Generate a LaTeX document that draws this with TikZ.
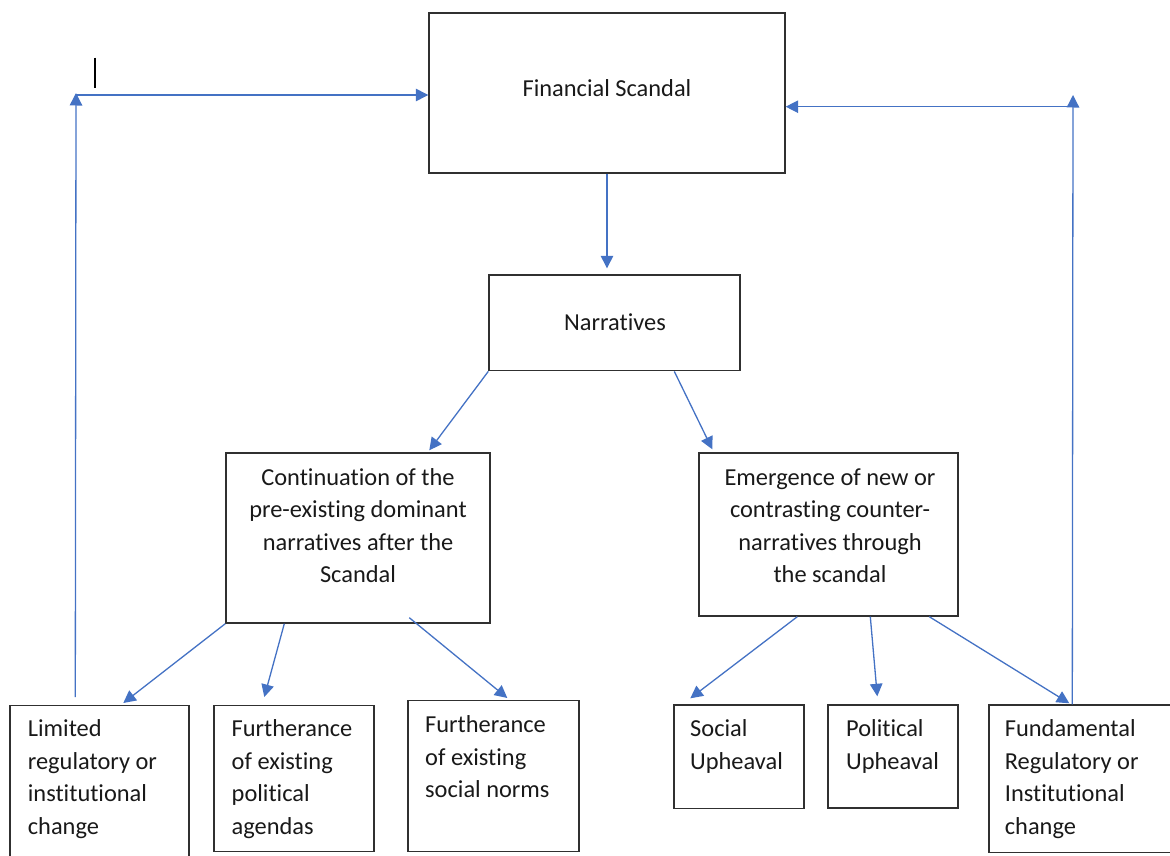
\documentclass[tikz,border=0pt]{standalone}
\usepackage{fontspec}
\setmainfont{Carlito}[Ligatures=NoCommon]
\usetikzlibrary{calc,arrows.meta}
\definecolor{arrblue}{HTML}{4472C4}
\definecolor{boxline}{HTML}{303030}
\begin{document}
\begin{tikzpicture}[x=1pt,y=-1pt,
  box/.style={draw=boxline,line width=1.4pt,inner sep=0pt,rectangle},
  txt/.style={inner sep=0pt,font=\fontsize{24.4}{32.5}\selectfont,text=black!90},
  arr/.style={draw=arrblue,line width=1.3pt,-{Triangle[length=12.5pt,width=12.5pt]}}]
\useasboundingbox (0,0) rectangle (1170,856);
\clip (0,0) rectangle (1170,856);
% boxes
\node[box,minimum width=356pt,minimum height=160pt] (fs) at (607,92.85) {};
\node[box,minimum width=251pt,minimum height=95.7pt] (narr) at (614.5,322.85) {};
\node[box,minimum width=264pt,minimum height=170pt] (cont) at (358,538) {};
\node[box,minimum width=259pt,minimum height=163pt] (emer) at (828.5,534.5) {};
\node[box,minimum width=179pt,minimum height=174.3pt] (lim) at (99.5,792.85) {};
\node[box,minimum width=160pt,minimum height=146pt] (polag) at (294,778.7) {};
\node[box,minimum width=171pt,minimum height=151pt] (socn) at (493.5,776.2) {};
\node[box,minimum width=130pt,minimum height=103.5pt] (suph) at (739,756.75) {};
\node[box,minimum width=130pt,minimum height=103pt] (puph) at (893,756.5) {};
\node[box,minimum width=201pt,minimum height=147.5pt] (fund) at (1089.5,778.75) {};
% texts (base anchor = baseline of the last line)
\node[txt,anchor=base] (fst) at (607,96.7) {Financial Scandal};
\node[txt,anchor=base] (narrt) at (615,330.7) {Narratives};
\node[txt,anchor=base,align=center] (contt) at (358,582.5) {Continuation of the\\pre-existing dominant\\narratives after the\\Scandal};
\node[txt,anchor=base,align=center] (emert) at (830,582.5) {Emergence of new or\\contrasting counter-\\narratives through\\the scandal};
\node[txt,anchor=base west,align=left] (limt) at (27.7,834.2) {Limited\\regulatory or\\institutional\\change};
\node[txt,anchor=base west,align=left] (polagt) at (231.5,834.2) {Furtherance\\of existing\\political\\agendas};
\node[txt,anchor=base west,align=left] (socnt) at (425,797.7) {Furtherance\\of existing\\social norms};
\node[txt,anchor=base west,align=left] (supht) at (690,769.2) {Social\\Upheaval};
\node[txt,anchor=base west,align=left] (puopht) at (846,769.2) {Political\\Upheaval};
\node[txt,anchor=base west,align=left] (fundt) at (1004.7,834.2) {Fundamental\\Regulatory or\\Institutional\\change};
% cursor mark
\draw[black,line width=2pt] (95,57.7) -- (95,88.3);
% connectors
\draw[arr] (fs.south) -- ($(fs.south |- narr.north)+(0,-6)$);
\draw[arr] (narr.south west) -- ($(cont.north west)+(204,-2)$);
\draw[arr] ($(narr.south west)+(186,0)$) -- ($(emer.north west)+(14,-3)$);
\draw[arr] (cont.south west) -- ($(lim.north west)+(114,-2)$);
\draw[arr] ($(cont.south west)+(59,0)$) -- ($(polag.north west)+(51,-8)$);
\draw[arr] ($(cont.south west)+(184,-6)$) -- ($(socn.north west)+(100,-2)$);
\draw[arr] ($(emer.south west)+(99,0)$) -- ($(suph.north west)+(17,-6)$);
\draw[arr] ($(emer.south west)+(172,0)$) -- ($(puph.north west)+(50,-8)$);
\draw[arr] ($(emer.south west)+(231,0)$) -- ($(fund.north west)+(81,-1)$);
% feedback loops
\coordinate (lc) at (76,95);
\coordinate (rc) at (1073,106.7);
\draw[arr] ($(lim.north west)+(66,-8)$) -- ($(lc)+(0,-2)$);
\draw[arr] (lc) -- (lc -| fs.west);
\draw[arr] ($(fund.north west)+(84,0)$) -- ($(rc)+(0,-11.7)$);
\draw[arr] (rc) -- (rc -| fs.east);
\end{tikzpicture}
\end{document}
